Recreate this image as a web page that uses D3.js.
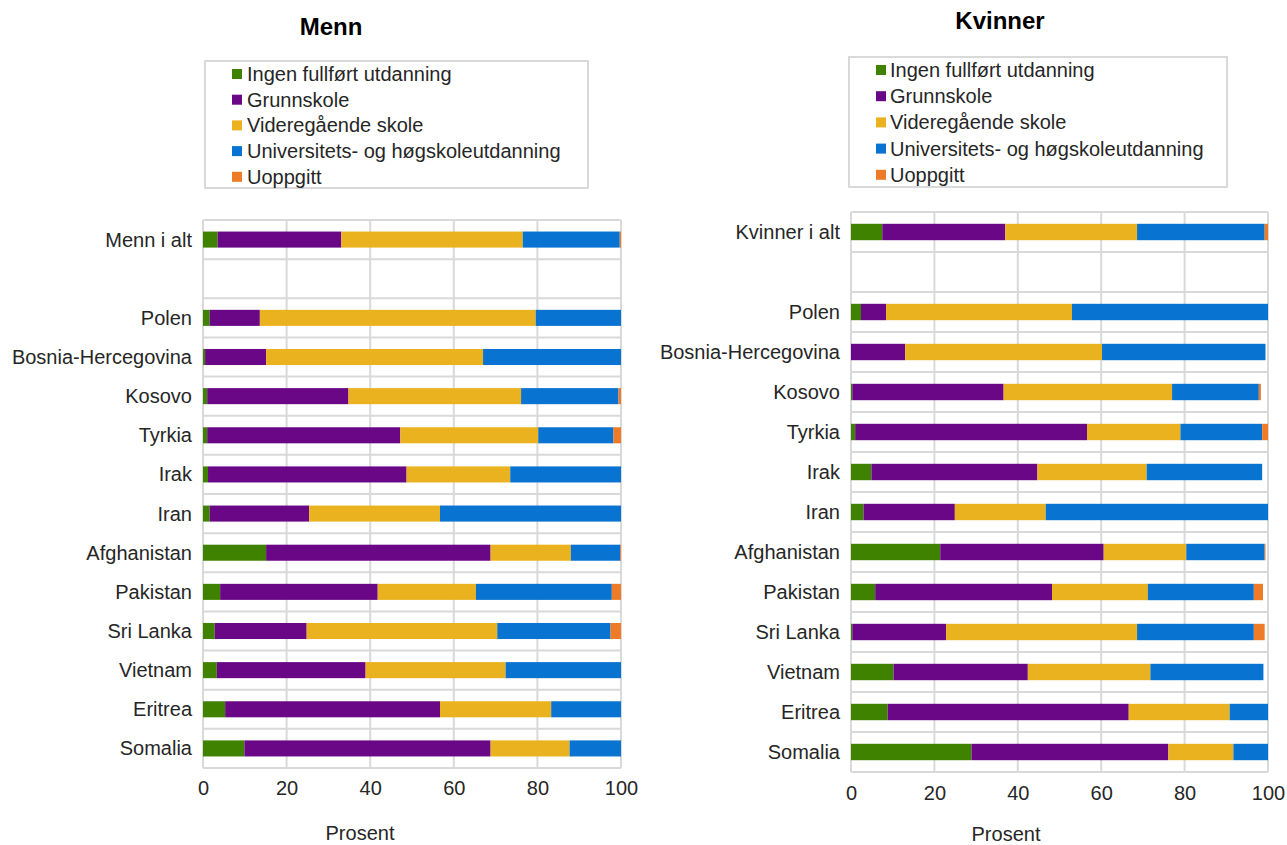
<!DOCTYPE html>
<html>
<head>
<meta charset="utf-8">
<script src="https://cdn.jsdelivr.net/npm/d3@7"></script>
<style>
  body { margin: 0; background: #ffffff; }
  svg { font-family: "Liberation Sans", Arial, sans-serif; }
</style>
</head>
<body>
<svg id="chart" width="1287" height="845"></svg>
<script>
// Categories, top to bottom. The empty string is the blank row under the total.
var menCategories = ['Menn i alt', '', 'Polen', 'Bosnia-Hercegovina', 'Kosovo', 'Tyrkia', 'Irak', 'Iran',
  'Afghanistan', 'Pakistan', 'Sri Lanka', 'Vietnam', 'Eritrea', 'Somalia'];
var womenCategories = ['Kvinner i alt', '', 'Polen', 'Bosnia-Hercegovina', 'Kosovo', 'Tyrkia', 'Irak', 'Iran',
  'Afghanistan', 'Pakistan', 'Sri Lanka', 'Vietnam', 'Eritrea', 'Somalia'];

var seriesNames = ['Ingen fullført utdanning', 'Grunnskole', 'Videregående skole',
  'Universitets- og høgskoleutdanning', 'Uoppgitt'];
var seriesColors = ['#3f8200', '#6a0787', '#ebb21f', '#0873d0', '#ee7b27'];

// Men, percent per category (same order as menCategories, null for the blank row)
var menIngen      = [3.5, null, 1.6, 0.5, 1.0, 1.0, 1.2, 1.6, 15.1, 4.1, 2.8, 3.3, 5.3, 9.9];
var menGrunnskole = [29.6, null, 12.0, 14.6, 33.8, 46.2, 47.5, 23.8, 53.7, 37.7, 22.0, 35.6, 51.4, 58.9];
var menVgs        = [43.4, null, 66.0, 51.9, 41.3, 33.0, 24.8, 31.3, 19.2, 23.5, 45.6, 33.5, 26.6, 18.9];
var menUni        = [23.2, null, 20.4, 33.0, 23.3, 18.0, 26.5, 43.3, 11.8, 32.5, 27.1, 27.6, 16.7, 12.3];
var menUoppgitt   = [0.3, null, 0, 0, 0.6, 1.8, 0, 0, 0.2, 2.2, 2.5, 0, 0, 0];

// Women
var womenIngen      = [7.5, null, 2.4, 0, 0.3, 1.0, 4.9, 3.0, 21.4, 5.8, 0.3, 10.2, 8.8, 28.9];
var womenGrunnskole = [29.5, null, 6.0, 13.0, 36.3, 55.6, 39.8, 21.9, 39.2, 42.4, 22.5, 32.2, 57.8, 47.2];
var womenVgs        = [31.6, null, 44.6, 47.2, 40.4, 22.4, 26.2, 21.8, 19.8, 23.0, 45.8, 29.4, 24.2, 15.6];
var womenUni        = [30.6, null, 47.0, 39.2, 20.8, 19.6, 27.7, 53.3, 18.8, 25.4, 28.0, 27.1, 9.2, 8.3];
var womenUoppgitt   = [0.8, null, 0, 0, 0.5, 1.4, 0, 0, 0.2, 2.2, 2.6, 0, 0, 0];

var xTicks = [0, 20, 40, 60, 80, 100];

var svg = d3.select('#chart');
var gridColor = '#d9d9d9';
var textColor = '#262626';
var fontSize = 20;

function drawPanel(cfg) {
  /* One stacked bar panel with its title, legend, grid and axis. */
  var x = d3.scaleLinear().domain([0, 100]).range([cfg.left, cfg.right]);
  var y = d3.scaleBand().domain(d3.range(cfg.categories.length))
    .range([cfg.top, cfg.bottom]).paddingInner(0.59).paddingOuter(0.295);
  var step = y.step();
  var bandTop = function(i) { return cfg.top + i * step; };

  var g = svg.append('g');

  // Title
  g.append('text')
    .attr('x', cfg.titleX).attr('y', cfg.titleY)
    .attr('text-anchor', 'middle')
    .attr('font-size', 24).attr('font-weight', 'bold')
    .attr('fill', '#000')
    .text(cfg.title);

  // Legend box
  var lg = g.append('g');
  lg.append('rect')
    .attr('x', cfg.legend.x).attr('y', cfg.legend.y)
    .attr('width', cfg.legend.w).attr('height', cfg.legend.h)
    .attr('fill', '#fff').attr('stroke', gridColor).attr('stroke-width', 2);
  seriesNames.forEach(function(name, k) {
    var cy = cfg.legend.firstRow + k * cfg.legend.rowStep;
    lg.append('rect')
      .attr('x', cfg.legend.swatchX).attr('y', cy - 5)
      .attr('width', 10).attr('height', 10)
      .attr('fill', seriesColors[k]);
    lg.append('text')
      .attr('x', cfg.legend.textX).attr('y', cy)
      .attr('dy', '0.35em')
      .attr('font-size', fontSize).attr('fill', textColor)
      .text(name);
  });

  // Grid: vertical lines at ticks, horizontal lines at band edges
  g.selectAll('.vgrid')
    .data(xTicks)
    .enter()
    .append('line')
      .attr('x1', function(d) { return x(d); })
      .attr('x2', function(d) { return x(d); })
      .attr('y1', cfg.top).attr('y2', cfg.bottom)
      .attr('stroke', gridColor).attr('stroke-width', 2);
  g.selectAll('.hgrid')
    .data(d3.range(cfg.categories.length + 1))
    .enter()
    .append('line')
      .attr('x1', cfg.left).attr('x2', cfg.right)
      .attr('y1', function(i) { return bandTop(i); })
      .attr('y2', function(i) { return bandTop(i); })
      .attr('stroke', gridColor).attr('stroke-width', 2);

  // Stacked bars
  var rows = cfg.categories.map(function(c, i) {
    var row = { index: i };
    cfg.series.forEach(function(arr, k) { row['s' + k] = arr[i] === null ? 0 : arr[i]; });
    return row;
  });
  var stack = d3.stack().keys(cfg.series.map(function(a, k) { return 's' + k; }));
  var layers = stack(rows);

  g.selectAll('.layer')
    .data(layers)
    .enter()
    .append('g')
      .attr('fill', function(d, k) { return seriesColors[k]; })
    .selectAll('rect')
    .data(function(d) { return d; })
    .enter()
    .append('rect')
      .attr('x', function(d) { return x(d[0]); })
      .attr('y', function(d) { return y(d.data.index); })
      .attr('width', function(d) { return Math.max(0, x(d[1]) - x(d[0])); })
      .attr('height', y.bandwidth());

  // Category labels
  g.selectAll('.cat')
    .data(cfg.categories)
    .enter()
    .append('text')
      .attr('x', cfg.left - 11)
      .attr('y', function(d, i) { return y(i) + y.bandwidth() / 2; })
      .attr('dy', '0.35em')
      .attr('text-anchor', 'end')
      .attr('font-size', fontSize).attr('fill', textColor)
      .text(function(d) { return d; });

  // X axis
  var axis = g.append('g')
    .attr('transform', 'translate(0, ' + cfg.bottom + ')')
    .call(d3.axisBottom(x).tickValues(xTicks).tickSize(0).tickPadding(cfg.tickPad));
  axis.select('.domain').remove();
  axis.selectAll('text')
    .attr('font-family', '"Liberation Sans", Arial, sans-serif')
    .attr('font-size', fontSize).attr('fill', textColor);

  g.append('text')
    .attr('x', cfg.axisTitleX).attr('y', cfg.axisTitleY)
    .attr('dy', '0.35em')
    .attr('text-anchor', 'middle')
    .attr('font-size', fontSize).attr('fill', textColor)
    .text('Prosent');
}

drawPanel({
  title: 'Menn', titleX: 331, titleY: 35,
  categories: menCategories,
  series: [menIngen, menGrunnskole, menVgs, menUni, menUoppgitt],
  left: 203, right: 621, top: 220, bottom: 768,
  legend: { x: 205, y: 61, w: 383, h: 127, swatchX: 232, textX: 247, firstRow: 74, rowStep: 25.7 },
  tickPad: 13, axisTitleX: 360, axisTitleY: 833
});

drawPanel({
  title: 'Kvinner', titleX: 1000, titleY: 29,
  categories: womenCategories,
  series: [womenIngen, womenGrunnskole, womenVgs, womenUni, womenUoppgitt],
  left: 851, right: 1268, top: 212, bottom: 772,
  legend: { x: 849, y: 57, w: 378, h: 130, swatchX: 876, textX: 890, firstRow: 70, rowStep: 26.2 },
  tickPad: 14, axisTitleX: 1006, axisTitleY: 834
});
</script>
</body>
</html>
